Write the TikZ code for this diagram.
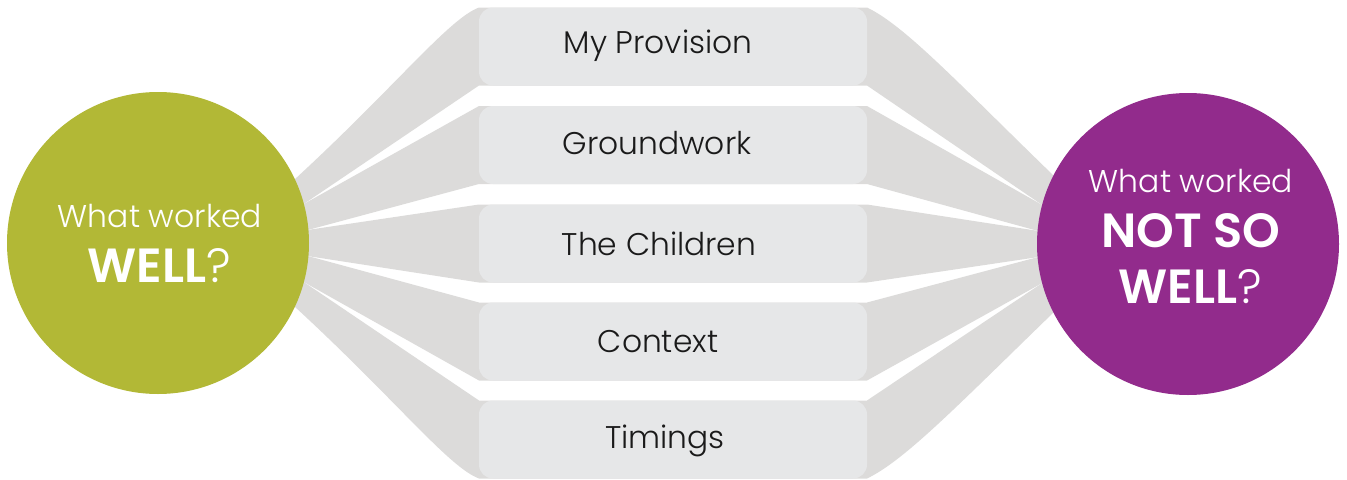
\documentclass[tikz,border=0pt]{standalone}
\usepackage{fontspec}
\newfontfamily\plight{Poppins Light}
\newfontfamily\pbold{Poppins SemiBold}
\definecolor{wellgreen}{HTML}{B2B836}
\definecolor{notpurple}{HTML}{922B8C}
\definecolor{wedgegrey}{HTML}{DCDBDA}
\definecolor{boxgrey}{HTML}{E6E7E8}
\definecolor{textdark}{HTML}{1A1A1A}
\pgfdeclarelayer{bg}
\pgfsetlayers{bg,main}
\begin{document}
\begin{tikzpicture}[x=0.75pt,y=-0.75pt,
  wedge/.style={fill=wedgegrey},
  catbox/.style={rectangle, rounded corners=10.5pt, fill=boxgrey, minimum width=291pt, minimum height=58.5pt, inner sep=0pt, outer sep=0pt},
  bubble/.style={circle, minimum size=226.5pt, inner sep=0pt, outer sep=0pt},
  lbl/.style={anchor=base, inner sep=0pt, text=textdark, font=\plight\fontsize{23.5}{23.5}\selectfont},
  qlight/.style={anchor=base, inner sep=0pt, text=white, font=\plight\fontsize{23.6}{23.6}\selectfont},
  qbold/.style={anchor=base, inner sep=0pt, text=white, font=\fontsize{36}{36}\selectfont}
]
\useasboundingbox (0,0) rectangle (1347,479);
% circles
\node[bubble, fill=wellgreen] (L) at (158,243) {};
\node[bubble, fill=notpurple] (R) at (1188,244) {};
% boxes
\node[catbox] (B1) at (673,46.5) {};
\node[catbox] (B2) at (673,145) {};
\node[catbox] (B3) at (673,243.5) {};
\node[catbox] (B4) at (673,341.5) {};
\node[catbox] (B5) at (673,439.5) {};
% box labels
\node[lbl] (t1) at (658,53) {My Provision};
\node[lbl] (t2) at (657,154) {Groundwork};
\node[lbl] (t3) at (659,255) {The Children};
\node[lbl] (t4) at (658,352) {Context};
\node[lbl] (t5) at (665,448) {Timings};
% circle texts
\node[qlight] (l1) at (160,227) {What worked};
\node[qbold] (l2) at (159,282) {{\pbold WELL}{\plight ?}};
\node[qlight] (r1) at (1191,192) {What worked};
\node[qbold] (r2) at (1191,247) {{\pbold NOT SO}};
\node[qbold] (r3) at (1190,303) {{\pbold WELL}{\plight ?}};
% wedges
\begin{pgfonlayer}{bg}
\fill[wedge] (L.center) -- (L.25) .. controls +(100,-92) and +(-30,11) .. (B1.north west)
  -- (B1.north east) .. controls +(38,18) and +(-93,-90) .. (R.153)
  -- (R.center) -- (R.165) -- (B1.south east) -- (B1.south west) -- (L.15) -- cycle;
\fill[wedge] (L.center) -- (L.15) -- (B2.north west) -- (B2.north east) -- (R.165)
  -- (R.center) -- (R.175) -- (B2.south east) -- (B2.south west) -- (L.5) -- cycle;
\fill[wedge] (L.center) -- (L.5) -- (B3.north west) -- (B3.north east) -- (R.175)
  -- (R.center) -- (R.185) -- (B3.south east) -- (B3.south west) -- (L.-5) -- cycle;
\fill[wedge] (L.center) -- (L.-5) -- (B4.north west) -- (B4.north east) -- (R.185)
  -- (R.center) -- (R.195) -- (B4.south east) -- (B4.south west) -- (L.-15) -- cycle;
\fill[wedge] (L.center) -- (L.-15) -- (B5.north west) -- (B5.north east) -- (R.195)
  -- (R.center) -- (R.207) .. controls +(-93,90) and +(38,-18) .. (B5.south east)
  -- (B5.south west) .. controls +(-30,-11) and +(100,92) .. (L.-25) -- cycle;
\end{pgfonlayer}
\end{tikzpicture}
\end{document}
